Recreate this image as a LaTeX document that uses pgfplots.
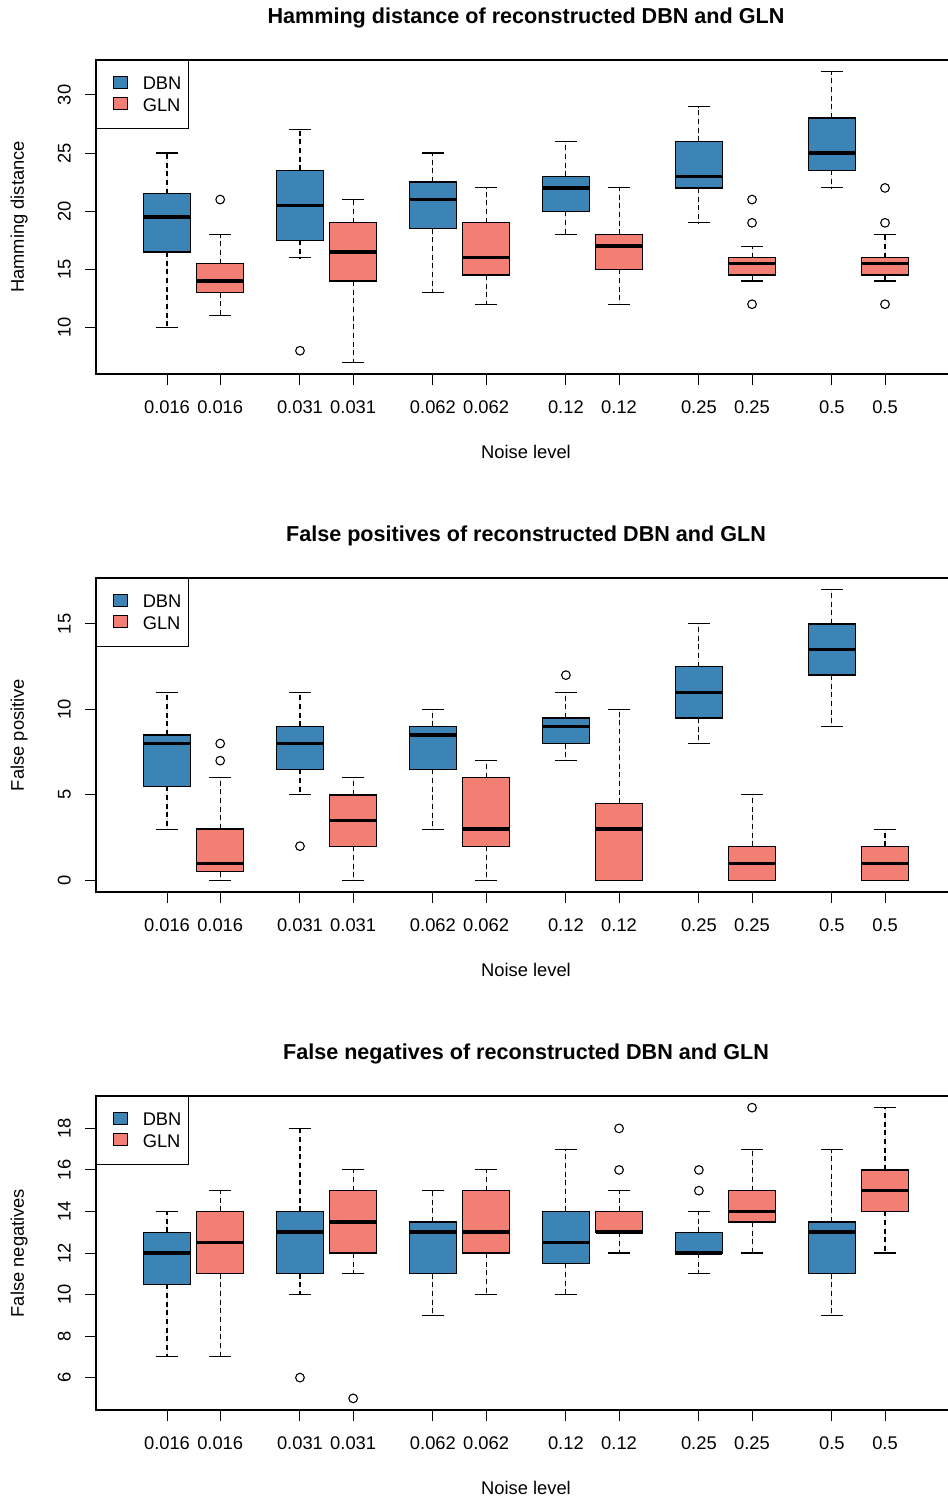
\documentclass[border=0pt]{standalone}
\usepackage{fontspec}
\setmainfont{Liberation Sans}
\usepackage{pgfplots}
\pgfplotsset{compat=1.18}
\usepgfplotslibrary{statistics}
\definecolor{dbn}{HTML}{3C84B6}
\definecolor{gln}{HTML}{F37E73}
\pgfplotsset{
  /pgfplots/boxplot/draw/whisker/.code 2 args={%
    \draw[black, line width=0.65pt, dash pattern=on 3pt off 2.2pt] (boxplot cs:#1) -- (boxplot cs:#2);
    \draw[black, line width=0.65pt, solid] (boxplot whisker cs:#2,0) -- (boxplot whisker cs:#2,1);
  },
  rbox/.style={
    scale only axis, width=516pt, height=188.4pt,
    xmin=0.266, xmax=6.734,
    axis line style={line width=0.7pt, black},
    tick align=outside, major tick length=6.6pt,
    tick style={line width=0.6pt, black},
    xtick pos=left, ytick pos=left,
    xtick={0.8,1.2,1.8,2.2,2.8,3.2,3.8,4.2,4.8,5.2,5.8,6.2},
    xticklabels={0.016,0.016,0.031,0.031,0.062,0.062,0.12,0.12,0.25,0.25,0.5,0.5},
    /pgf/number format/assume math mode=true,
    tick label style={font=\fontsize{11}{13}\selectfont},
    xticklabel style={anchor=base, yshift=-17.2pt},
    yticklabel style={xshift=-8.6pt, rotate=90, anchor=base},
    label style={font=\fontsize{11}{13}\selectfont},
    xlabel={Noise level},
    xlabel style={at={(axis description cs:0.5,-0.2484)}, anchor=center},
    ylabel style={at={(axis description cs:-0.0895,0.5)}, anchor=center},
    every axis title shift=0pt,
    title style={at={(axis description cs:0.5,1.134)}, anchor=center, font=\bfseries\fontsize{12.95}{15}\selectfont},
    boxplot/draw direction=y,
    boxplot/box extend=0.353,
    boxplot/whisker extend=0.165,
    boxplot/every box/.style={line width=0.8pt, draw=black},
    boxplot/every median/.style={line width=2.1pt, black, solid},
    legend image code/.code={\path (0pt,0pt); \draw[#1, draw=black, line width=0.7pt] (5.2pt,-2.2pt) rectangle (13.6pt,5pt);},
    legend cell align=left,
    legend style={at={(rel axis cs:0,1)}, anchor=north west, draw=black, line width=0.7pt,
      font=\fontsize{11}{13}\selectfont, inner xsep=4.4pt, inner ysep=9pt, row sep=3.1pt,
      nodes={inner sep=0pt},
      /tikz/every odd column/.append style={column sep=9pt}},
  }
}
\newcommand{\bx}[8]{\addplot[forget plot, fill=#7, draw=black, line width=0.8pt, mark=o, mark size=2.6pt, mark options={solid, black, fill=none, line width=0.65pt}, boxplot prepared={draw position=#1, lower whisker=#2, lower quartile=#3, median=#4, upper quartile=#5, upper whisker=#6}] coordinates {#8};}
\begin{document}
\begin{tikzpicture}
% Panel 1
\begin{axis}[rbox, at={(57.6pt,-36pt)}, anchor=north west,
  ymin=6, ymax=33, ytick={10,15,20,25,30},
  ylabel={Hamming distance},
  title={Hamming distance of reconstructed DBN and GLN}]
\addlegendimage{fill=dbn}\addlegendentry{DBN}
\addlegendimage{fill=gln}\addlegendentry{GLN}
\bx{0.8}{10}{16.5}{19.5}{21.5}{25}{dbn}{}
\bx{1.2}{11}{13}{14}{15.5}{18}{gln}{(0,21)}
\bx{1.8}{16}{17.5}{20.5}{23.5}{27}{dbn}{(0,8)}
\bx{2.2}{7}{14}{16.5}{19}{21}{gln}{}
\bx{2.8}{13}{18.5}{21}{22.5}{25}{dbn}{}
\bx{3.2}{12}{14.5}{16}{19}{22}{gln}{}
\bx{3.8}{18}{20}{22}{23}{26}{dbn}{}
\bx{4.2}{12}{15}{17}{18}{22}{gln}{}
\bx{4.8}{19}{22}{23}{26}{29}{dbn}{}
\bx{5.2}{14}{14.5}{15.5}{16}{17}{gln}{(0,21) (0,19) (0,12)}
\bx{5.8}{22}{23.5}{25}{28}{32}{dbn}{}
\bx{6.2}{14}{14.5}{15.5}{16}{18}{gln}{(0,22) (0,19) (0,12)}
\end{axis}
% Panel 2
\begin{axis}[rbox, at={(57.6pt,-346.8pt)}, anchor=north west,
  ymin=-0.68, ymax=17.68, ytick={0,5,10,15},
  ylabel={False positive},
  title={False positives of reconstructed DBN and GLN}]
\addlegendimage{fill=dbn}\addlegendentry{DBN}
\addlegendimage{fill=gln}\addlegendentry{GLN}
\bx{0.8}{3}{5.5}{8}{8.5}{11}{dbn}{}
\bx{1.2}{0}{0.5}{1}{3}{6}{gln}{(0,8) (0,7)}
\bx{1.8}{5}{6.5}{8}{9}{11}{dbn}{(0,2)}
\bx{2.2}{0}{2}{3.5}{5}{6}{gln}{}
\bx{2.8}{3}{6.5}{8.5}{9}{10}{dbn}{}
\bx{3.2}{0}{2}{3}{6}{7}{gln}{}
\bx{3.8}{7}{8}{9}{9.5}{11}{dbn}{(0,12)}
\bx{4.2}{0}{0}{3}{4.5}{10}{gln}{}
\bx{4.8}{8}{9.5}{11}{12.5}{15}{dbn}{}
\bx{5.2}{0}{0}{1}{2}{5}{gln}{}
\bx{5.8}{9}{12}{13.5}{15}{17}{dbn}{}
\bx{6.2}{0}{0}{1}{2}{3}{gln}{}
\end{axis}
% Panel 3
\begin{axis}[rbox, at={(57.6pt,-657.6pt)}, anchor=north west,
  ymin=4.44, ymax=19.56, ytick={6,8,10,12,14,16,18},
  ylabel={False negatives},
  title={False negatives of reconstructed DBN and GLN}]
\addlegendimage{fill=dbn}\addlegendentry{DBN}
\addlegendimage{fill=gln}\addlegendentry{GLN}
\bx{0.8}{7}{10.5}{12}{13}{14}{dbn}{}
\bx{1.2}{7}{11}{12.5}{14}{15}{gln}{}
\bx{1.8}{10}{11}{13}{14}{18}{dbn}{(0,6)}
\bx{2.2}{11}{12}{13.5}{15}{16}{gln}{(0,5)}
\bx{2.8}{9}{11}{13}{13.5}{15}{dbn}{}
\bx{3.2}{10}{12}{13}{15}{16}{gln}{}
\bx{3.8}{10}{11.5}{12.5}{14}{17}{dbn}{}
\bx{4.2}{12}{13}{13}{14}{15}{gln}{(0,16) (0,18)}
\bx{4.8}{11}{12}{12}{13}{14}{dbn}{(0,15) (0,16)}
\bx{5.2}{12}{13.5}{14}{15}{17}{gln}{(0,19)}
\bx{5.8}{9}{11}{13}{13.5}{17}{dbn}{}
\bx{6.2}{12}{14}{15}{16}{19}{gln}{}
\end{axis}
\pgfresetboundingbox
\path[use as bounding box] (0pt,0pt) rectangle (568.2pt,-898.8pt);
\end{tikzpicture}
\end{document}
